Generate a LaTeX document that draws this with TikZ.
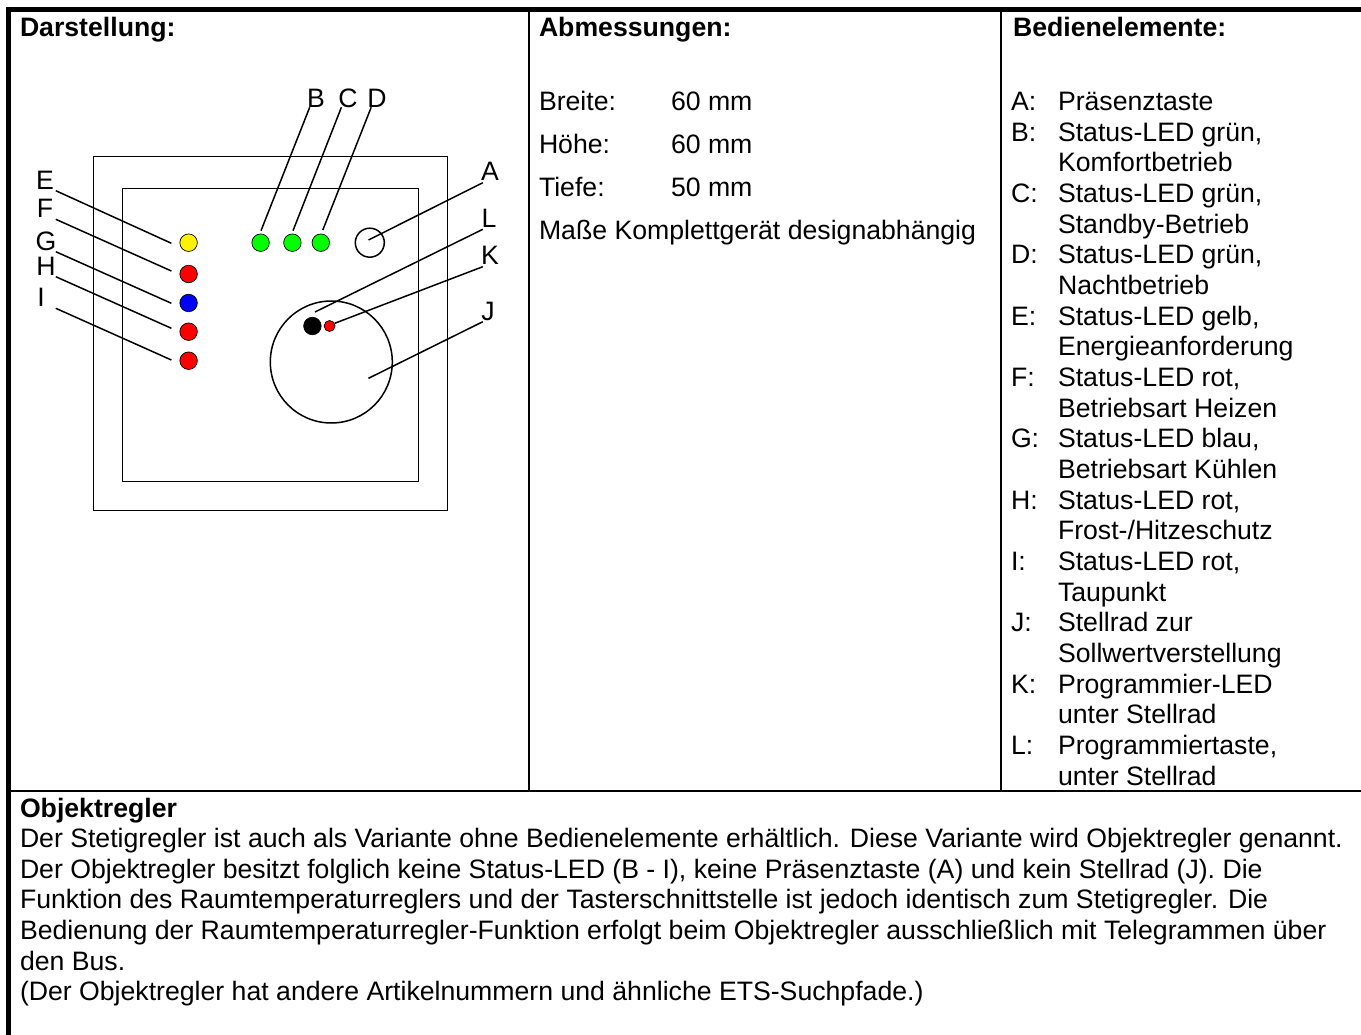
\documentclass[tikz,border=0pt]{standalone}
\usepackage{fontspec}
\setmainfont{Liberation Sans}
\begin{document}
\begin{tikzpicture}[x=1pt,y=-1pt,
  txt/.style={anchor=base west,inner sep=0pt,outer sep=0pt,font=\fontsize{26.65}{30}\selectfont},
  head/.style={txt,font=\fontsize{26.65}{30}\selectfont\bfseries},
  lab/.style={anchor=base,inner sep=0pt,outer sep=0pt,font=\fontsize{26.65}{30}\selectfont},
  frame/.style={line width=2.2pt,black},
  thick frame/.style={line width=5pt,black},
  shell/.style={draw=black,line width=1.5pt},
  led/.style={circle,draw=black,line width=0.7pt,minimum size=17.5pt,inner sep=0pt},
  knob/.style={circle,draw=black,line width=1.5pt,inner sep=0pt,fill=white},
  leader/.style={draw=black,line width=1.5pt}]
\useasboundingbox (0,0) rectangle (1361,1035);
\fill[white] (0,0) rectangle (1361,1035);
% table
\draw[thick frame] (8.5,1035) -- (8.5,9.5) -- (1361,9.5);
\draw[frame] (529,12) -- (529,791);
\draw[frame] (1001,12) -- (1001,791);
\draw[frame] (11,791) -- (1361,791);
% device
\node[shell,rectangle,minimum width=354pt,minimum height=354pt,inner sep=0pt] (outerbox) at (270.5,333.5) {};
\node[shell,rectangle,minimum width=296pt,minimum height=293pt,inner sep=0pt] (innerbox) at (270.5,335) {};
\node[knob,minimum size=122pt] (knobJ) at (331.3,362) {};
\node[knob,minimum size=29pt] (btnA) at (369.8,242.7) {};
\node[led,fill=yellow] (ledE) at (188.6,242.7) {};
\node[led,fill=red] (ledF) at (188.6,274) {};
\node[led,fill=blue] (ledG) at (188.6,303) {};
\node[led,fill=red] (ledH) at (188.6,331.7) {};
\node[led,fill=red] (ledI) at (188.6,360.7) {};
\node[led,fill=green] (ledB) at (260.6,242.7) {};
\node[led,fill=green] (ledC) at (292.4,242.7) {};
\node[led,fill=green] (ledD) at (320.8,242.7) {};
\node[led,fill=black] (btnL) at (312.4,326) {};
\node[led,fill=red,minimum size=11pt] (ledK) at (329.6,326) {};
% leader ends
\coordinate (aA) at (482.8,182.7); \coordinate (zA) at (368.5,240);
\coordinate (aB) at (309.7,107.3); \coordinate (zB) at (261,230.7);
\coordinate (aC) at (341.4,107.3); \coordinate (zC) at (293,230.7);
\coordinate (aD) at (371.2,107.3); \coordinate (zD) at (322.8,230);
\coordinate (aE) at (55.8,190.7); \coordinate (zE) at (171.4,243.3);
\coordinate (aF) at (55.8,219.3); \coordinate (zF) at (171.4,271);
\coordinate (aG) at (55.8,251.7); \coordinate (zG) at (171.4,303.3);
\coordinate (aH) at (55.8,276.7); \coordinate (zH) at (171.4,328.3);
\coordinate (aI) at (55.8,308.3); \coordinate (zI) at (171.4,360);
\coordinate (aJ) at (482.8,321.7); \coordinate (zJ) at (368.5,378.3);
\coordinate (aK) at (482.8,266.7); \coordinate (zK) at (334.7,323.3);
\coordinate (aL) at (482.8,229.3); \coordinate (zL) at (315,312);
\foreach \n in {A,B,C,D,E,F,G,H,I,J,K,L} {\draw[leader] (a\n) -- (z\n);}
% letters
\node[lab] (labB) at (316,107.5) {B};
\node[lab] (labC) at (348,107.5) {C};
\node[lab] (labD) at (377,107.5) {D};
\node[lab] (labA) at (490,181) {A};
\node[lab] (labL) at (489,228) {L};
\node[lab] (labK) at (490,265) {K};
\node[lab] (labJ) at (488,320) {J};
\node[lab] (labE) at (45,190) {E};
\node[lab] (labF) at (45,218) {F};
\node[lab] (labG) at (46,251) {G};
\node[lab] (labH) at (46,276) {H};
\node[lab] (labI) at (41,307) {I};
% headings
\node[head] (h1) at (20,37) {Darstellung:};
\node[head] (h2) at (539,37) {Abmessungen:};
\node[head] (h3) at (1013,37) {Bedienelemente:};
% dimensions
\node[txt] (d1) at (539,110.5) {Breite:};  \node[txt] (d1v) at (671,110.5) {60 mm};
\node[txt] (d2) at (539,153.5) {Höhe:};    \node[txt] (d2v) at (671,153.5) {60 mm};
\node[txt] (d3) at (539,196.5) {Tiefe:};   \node[txt] (d3v) at (671,196.5) {50 mm};
\node[txt] (d4) at (539,240) {Maße Komplettgerät designabhängig};
% list
\foreach \k/\t [count=\i from 0] in {
 A:/Präsenztaste, B:/{Status-LED grün,}, /Komfortbetrieb,
 C:/{Status-LED grün,}, /Standby-Betrieb,
 D:/{Status-LED grün,}, /Nachtbetrieb,
 E:/{Status-LED gelb,}, /Energieanforderung,
 F:/{Status-LED rot,}, /Betriebsart Heizen,
 G:/{Status-LED blau,}, /Betriebsart Kühlen,
 H:/{Status-LED rot,}, /{Frost-/Hitzeschutz},
 I:/{Status-LED rot,}, /Taupunkt,
 J:/Stellrad zur, /Sollwertverstellung,
 K:/Programmier-LED, /unter Stellrad,
 L:/{Programmiertaste,}, /unter Stellrad} {
  \node[txt] (key\i) at (1011,110.5+30.66*\i) {\k};
  \node[txt] (val\i) at (1058,110.5+30.66*\i) {\t};
}
% paragraph
\node[head] (p0) at (20,817) {Objektregler};
\node[txt] (p1) at (20,847.6) {Der Stetigregler ist auch als Variante ohne Bedienelemente erhältlich. Diese Variante wird Objektregler genannt.};
\node[txt] (p2) at (20,878.2) {Der Objektregler besitzt folglich keine Status-LED (B - I), keine Präsenztaste (A) und kein Stellrad (J). Die};
\node[txt] (p3) at (20,908.9) {Funktion des Raumtemperaturreglers und der Tasterschnittstelle ist jedoch identisch zum Stetigregler. Die};
\node[txt] (p4) at (20,939.5) {Bedienung der Raumtemperaturregler-Funktion erfolgt beim Objektregler ausschließlich mit Telegrammen über};
\node[txt] (p5) at (20,970.1) {den Bus.};
\node[txt] (p6) at (20,1000.7) {(Der Objektregler hat andere Artikelnummern und ähnliche ETS-Suchpfade.)};
\end{tikzpicture}
\end{document}
